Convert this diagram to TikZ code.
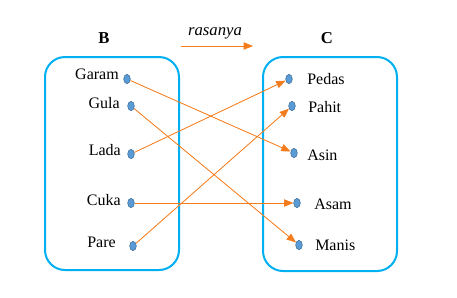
\documentclass[tikz,border=0pt]{standalone}
\usepackage{fontspec}
\setmainfont{Liberation Serif}
\usetikzlibrary{arrows.meta,shapes.geometric}
\definecolor{himpunan}{HTML}{00B0F0}
\definecolor{panah}{HTML}{F57C1C}
\definecolor{titik}{HTML}{5B9BD5}
\definecolor{tepi}{HTML}{41719C}

\begin{document}
\begin{tikzpicture}[x=0.75pt, y=-0.75pt, >={Triangle[length=7pt,width=5.5pt]},
  dot/.style={ellipse, draw=tepi, fill=titik, line width=0.4pt, minimum width=5pt, minimum height=7pt, inner sep=0pt},
  kiri/.style={anchor=east, inner sep=0pt, font=\fontsize{12}{14}\selectfont},
  kanan/.style={anchor=west, inner sep=0pt, font=\fontsize{12}{14}\selectfont},
  kotak/.style={draw=himpunan, line width=1.5pt, rounded corners=15pt},
  pasang/.style={->, draw=panah, fill=panah, line width=0.6pt}]
\useasboundingbox (0,0) rectangle (457,297);

\draw[kotak] (45,57) rectangle (179,270);
\draw[kotak] (263,57) rectangle (397,271);
\node[font=\fontsize{12.5}{14}\selectfont\bfseries] (b) at (104,38) {B};
\node[font=\fontsize{12.5}{14}\selectfont\bfseries] (c) at (327,38) {C};

\node[font=\fontsize{12.5}{14}\selectfont\itshape] (rs) at (215,33) {rasanya};
\coordinate (r1) at (181,46);
\coordinate (r2) at (253,46);
\draw[pasang] (r1) -- (r2);

\node[dot] (garam) at (127,79) {};
\node[dot] (gula) at (131,106) {};
\node[dot] (lada) at (131,154) {};
\node[dot] (cuka) at (131,203) {};
\node[dot] (pare) at (133,246) {};
\node[kiri] at (119,74) {Garam};
\node[kiri] at (120,103) {Gula};
\node[kiri] at (121,150) {Lada};
\node[kiri] at (121,200) {Cuka};
\node[kiri] at (116,242) {Pare};

\node[dot] (pedas) at (289,79) {};
\node[dot] (pahit) at (292,106) {};
\node[dot] (asin) at (294,153) {};
\node[dot] (asam) at (297,203) {};
\node[dot] (manis) at (299,245) {};
\node[kanan] at (307,79) {Pedas};
\node[kanan] at (308,107) {Pahit};
\node[kanan] at (307,155) {Asin};
\node[kanan] at (314,204) {Asam};
\node[kanan] at (315,245) {Manis};

\draw[pasang] (garam) -- (asin);
\draw[pasang] (gula) -- (manis);
\draw[pasang] (lada) -- (pedas);
\draw[pasang] (cuka) -- (asam);
\draw[pasang] (pare) -- (pahit);
\end{tikzpicture}
\end{document}
